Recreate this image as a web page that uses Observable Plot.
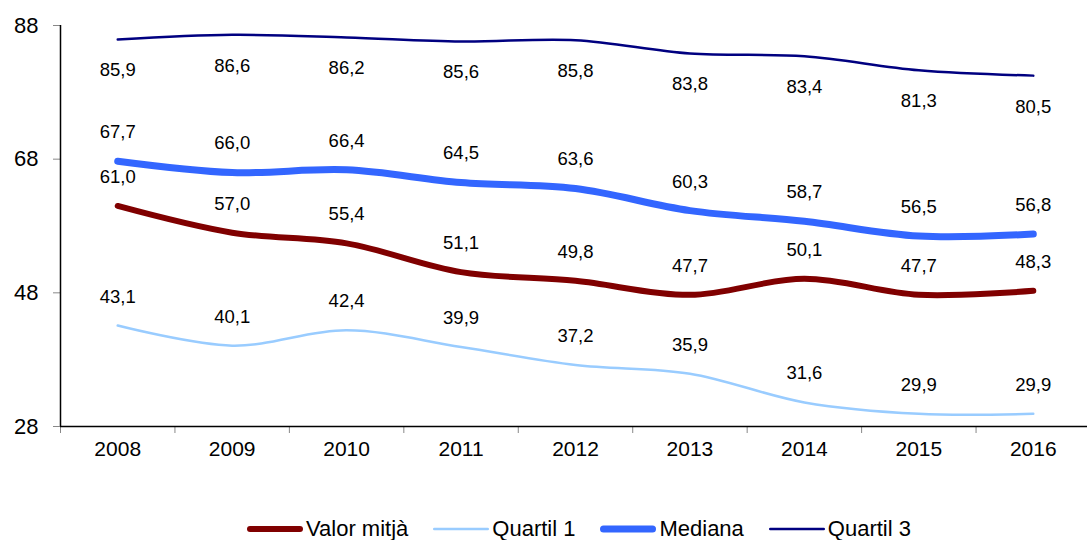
<!DOCTYPE html>
<html>
<head>
<meta charset="utf-8">
<script src="https://cdn.jsdelivr.net/npm/d3@7"></script>
<script src="https://cdn.jsdelivr.net/npm/@observablehq/plot@0.6"></script>
<style>
  html, body { margin: 0; padding: 0; background: #fff; }
  body { width: 1087px; height: 540px; position: relative; overflow: hidden; font-family: "Liberation Sans", Arial, sans-serif; }
  #legend { position: absolute; left: 246px; top: 516px; display: flex; align-items: center; font-size: 22px; color: #000; white-space: nowrap; }
  .item { display: flex; align-items: center; margin-right: 24px; }
  .item svg { margin-right: 2px; }
</style>
</head>
<body>
<div id="chart"></div>
<div id="legend"></div>
<script>
const years = [2008, 2009, 2010, 2011, 2012, 2013, 2014, 2015, 2016];
const valorMitja = [61.0, 57.0, 55.4, 51.1, 49.8, 47.7, 50.1, 47.7, 48.3];
const quartil1 = [43.1, 40.1, 42.4, 39.9, 37.2, 35.9, 31.6, 29.9, 29.9];
const mediana = [67.7, 66.0, 66.4, 64.5, 63.6, 60.3, 58.7, 56.5, 56.8];
const quartil3 = [85.9, 86.6, 86.2, 85.6, 85.8, 83.8, 83.4, 81.3, 80.5];
const yTicks = [28, 48, 68, 88];
const seriesNames = ["Valor mitjà", "Quartil 1", "Mediana", "Quartil 3"];
const seriesColors = ["#800000", "#99CCFF", "#3366FF", "#000080"];
const seriesWidths = [6, 2.5, 7, 2.5];

const allSeries = [valorMitja, quartil1, mediana, quartil3];
const rows = allSeries.flatMap((vals, i) =>
  years.map((yr, j) => ({ series: seriesNames[i], idx: i, year: yr, value: vals[j] }))
);
const boundaries = [...years.map(y => y - 0.5), years[years.length - 1] + 0.5];
const fmt = v => v.toFixed(1).replace(".", ",");

const lineMarks = seriesNames.map((name, i) =>
  Plot.line(rows.filter(d => d.idx === i), {
    x: "year", y: "value",
    stroke: seriesColors[i], strokeWidth: seriesWidths[i],
    curve: "catmull-rom", strokeLinecap: "round"
  })
);
const labelMarks = seriesNames.map((name, i) =>
  Plot.text(rows.filter(d => d.idx === i), {
    x: "year", y: "value", text: d => fmt(d.value),
    dy: i === 3 ? 31 : -29, fontSize: 18.5, fill: "#000"
  })
);

const chart = Plot.plot({
  width: 1087,
  height: 490,
  marginLeft: 60,
  marginRight: -3,
  marginTop: 25,
  marginBottom: 64,
  style: { fontFamily: "'Liberation Sans', Arial, sans-serif", background: "#fff", color: "#000", overflow: "visible" },
  x: { domain: [years[0] - 0.5, years[years.length - 1] + 0.5], axis: null },
  y: { domain: [yTicks[0], yTicks[yTicks.length - 1]], axis: null },
  marks: [
    Plot.axisX({ ticks: boundaries, tickFormat: () => "", tickSize: 7, stroke: "#888", label: null }),
    Plot.axisX({ ticks: years, tickFormat: d => String(d), tickSize: 0, tickPadding: 15, fontSize: 21, fill: "#000", label: null }),
    Plot.axisY({ ticks: yTicks, tickFormat: d => String(d), tickSize: 7, tickPadding: 15, fontSize: 22, stroke: "#888", fill: "#000", label: null }),
    Plot.ruleX([years[0] - 0.5], { stroke: "#000", strokeWidth: 1.5 }),
    Plot.ruleY([yTicks[0]], { stroke: "#000", strokeWidth: 1.5 }),
    ...lineMarks,
    ...labelMarks
  ]
});
document.getElementById("chart").appendChild(chart);

const legend = document.getElementById("legend");
seriesNames.forEach((name, i) => {
  const item = document.createElement("div");
  item.className = "item";
  const sw = seriesWidths[i];
  item.innerHTML = `<svg width="58" height="12"><line x1="${sw/2+1}" y1="6" x2="${57 - sw/2}" y2="6" stroke="${seriesColors[i]}" stroke-width="${sw}" stroke-linecap="round"/></svg><span>${name}</span>`;
  legend.appendChild(item);
});
</script>
</body>
</html>
